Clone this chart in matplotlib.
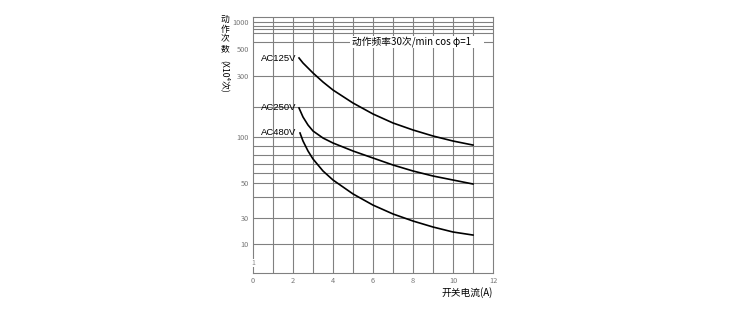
import numpy as np
import matplotlib.pyplot as plt
from matplotlib.patches import Rectangle

plt.rcParams['font.family'] = ['Noto Sans CJK SC', 'DejaVu Sans']

# 开关电流 (A) 与 动作次数 (X10^4 次)
x_125 = [2.3, 2.5, 3, 3.5, 4, 5, 6, 7, 8, 9, 10, 11]
y_125 = [421.8, 383.7, 317.6, 277.3, 249.7, 210.7, 170.2, 138.2, 117.6, 102.3, 95.4, 91.0]

x_250 = [2.3, 2.5, 2.75, 3, 3.5, 4, 5, 6, 7, 8, 9, 10, 11]
y_250 = [195.4, 158.7, 131.9, 114.9, 98.8, 93.2, 84.3, 76.5, 68.8, 62.1, 56.8, 52.8, 49.2]

x_480 = [2.35, 2.5, 2.75, 3, 3.5, 4, 5, 6, 7, 8, 9, 10, 11]
y_480 = [109.7, 95.4, 84.3, 75.4, 62.1, 52.8, 42.0, 35.8, 31.7, 26.4, 20.5, 16.6, 14.6]

y_ticks = [1000, 500, 300, 100, 50, 30, 10]
y_grid = [1000, 900, 800, 700, 600, 300, 200, 100, 90, 80, 70, 60, 50, 40, 30, 10]
x_ticks = [0, 2, 4, 6, 8, 10, 12]

# the printed scale is a distorted log scale: value -> relative height
scale_vals = np.array([0.5, 1, 10, 30, 40, 50, 60, 70, 80, 90, 100, 200, 300,
                       500, 600, 700, 800, 900, 1000, 1200])
scale_pos = np.array([273, 263, 244, 218, 197, 183, 173, 164, 155, 146, 137,
                      107, 76, 49, 42, 33, 29, 25.5, 22, 17])
L = np.log10(scale_vals)
P = -scale_pos


def fwd(v):
    v = np.clip(np.asarray(v, dtype=float), 1e-3, None)
    return np.interp(np.log10(v), L, P)


def inv(p):
    return 10 ** np.interp(p, P, L)


fig = plt.figure(figsize=(7.38, 3.10), dpi=100)
ax = fig.add_axes([253 / 738, 37 / 310, 240 / 738, 256 / 310])
ax.set_yscale('function', functions=(fwd, inv))
ax.set_xlim(0, 12)
ax.set_ylim(0.5, 1200)

grid_c = '#808080'
for gx in range(1, 12):
    ax.axvline(gx, color=grid_c, lw=0.8, zorder=1)
for gy in y_grid:
    ax.axhline(gy, color=grid_c, lw=0.8, zorder=1)

for s in ax.spines.values():
    s.set_color(grid_c)
    s.set_linewidth(0.8)

ax.set_xticks(x_ticks)
ax.set_xticklabels([str(t) for t in x_ticks])
ax.set_yticks(y_ticks)
ax.set_yticklabels([str(t) for t in y_ticks])
ax.yaxis.set_minor_locator(plt.NullLocator())
ax.tick_params(length=0, labelsize=5.3, labelcolor='#777777')
ax.tick_params(axis='y', pad=3)
ax.tick_params(axis='x', pad=3)
ax.text(0, 1, '1', fontsize=5, color='#888888', ha='center', va='center',
        bbox=dict(facecolor='white', edgecolor='none', pad=0.3), zorder=3)

ax.plot(x_125, y_125, color='black', lw=1.2, zorder=4)
ax.plot(x_250, y_250, color='black', lw=1.2, zorder=4)
ax.plot(x_480, y_480, color='black', lw=1.2, zorder=4)

lab_font = ['Liberation Sans', 'DejaVu Sans']
ax.text(2.15, 420, 'AC125V', fontsize=6.8, ha='right', va='center', family=lab_font)
ax.text(2.15, 197, 'AC250V', fontsize=6.8, ha='right', va='center', family=lab_font)
ax.text(2.15, 112, 'AC480V', fontsize=6.8, ha='right', va='center', family=lab_font)

# white strip behind the operating condition note
ax.add_patch(Rectangle((4.85, 0.879), 6.7, 0.047, transform=ax.get_xaxis_transform(),
                       facecolor='white', edgecolor='none', zorder=2))
ax.text(7.95, 600, '动作频率30次/min cos φ=1', fontsize=7, ha='center', va='center', zorder=3)

fig.text(493 / 738, 1 - 293 / 310, '开关电流(A)', fontsize=7, ha='right', va='center')
fig.text(225 / 738, 1 - 34 / 310, '动\n作\n次\n数', fontsize=6.3, ha='center', va='center',
         linespacing=1.1)
fig.text(225 / 738, 1 - 76 / 310, '(X10⁴次)', fontsize=6.3, ha='center', va='center',
         rotation=-90)

fig.savefig('out.png', dpi=100)
